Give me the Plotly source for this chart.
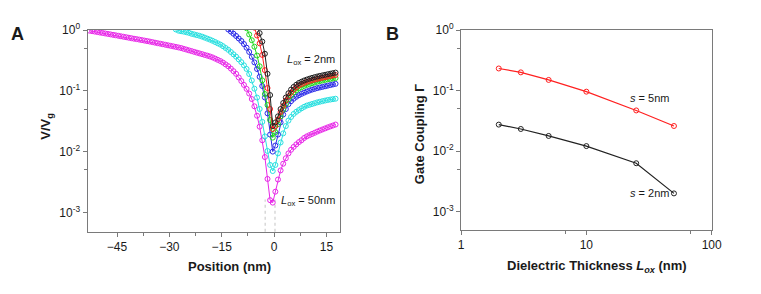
import plotly.graph_objects as go

# ---------------- Panel A data ----------------
position_nm = [
    -52.875, -52.125, -51.375, -50.625, -49.875, -49.125, -48.375, -47.625, -46.875, -46.125,
    -45.375, -44.625, -43.875, -43.125, -42.375, -41.625, -40.875, -40.125, -39.375, -38.625,
    -37.875, -37.125, -36.375, -35.625, -34.875, -34.125, -33.375, -32.625, -31.875, -31.125,
    -30.375, -29.625, -28.875, -28.125, -27.375, -26.625, -25.875, -25.125, -24.375, -23.625,
    -22.875, -22.125, -21.375, -20.625, -19.875, -19.125, -18.375, -17.625, -16.875, -16.125,
    -15.375, -14.625, -13.875, -13.125, -12.375, -11.625, -10.875, -10.125, -9.375, -8.625,
    -7.875, -7.125, -6.375, -5.625, -4.875, -4.125, -3.375, -2.625, -1.875, -1.125,
    -0.375, 0.375, 1.125, 1.875, 2.625, 3.375, 4.125, 4.875, 5.625, 6.375,
    7.125, 7.875, 8.625, 9.375, 10.125, 10.875, 11.625, 12.375, 13.125, 13.875,
    14.625, 15.375, 16.125, 16.875, 17.625,
]

# log10(V/Vg), each series ends at the last position
log10_v_lox50 = [
    -0.010, -0.018, -0.025, -0.033, -0.041, -0.048, -0.056, -0.063, -0.071, -0.079,
    -0.086, -0.094, -0.102, -0.110, -0.118, -0.126, -0.134, -0.142, -0.149, -0.157,
    -0.165, -0.173, -0.181, -0.189, -0.198, -0.207, -0.216, -0.224, -0.233, -0.242,
    -0.251, -0.259, -0.268, -0.277, -0.286, -0.296, -0.309, -0.321, -0.334, -0.346,
    -0.359, -0.371, -0.384, -0.396, -0.409, -0.421, -0.434, -0.450, -0.470, -0.490,
    -0.510, -0.535, -0.565, -0.595, -0.634, -0.676, -0.720, -0.780, -0.840, -0.903,
    -0.968, -1.045, -1.135, -1.255, -1.410, -1.590, -1.814, -2.090, -2.450, -2.800,
    -2.840, -2.660, -2.460, -2.310, -2.200, -2.110, -2.030, -1.970, -1.923, -1.881,
    -1.844, -1.813, -1.776, -1.750, -1.730, -1.710, -1.691, -1.671, -1.653, -1.636,
    -1.619, -1.602, -1.586, -1.571, -1.555,
]
log10_v_lox25 = [
    0.010,
    -0.010, -0.019, -0.026, -0.036, -0.046, -0.061,
    -0.072, -0.083, -0.094, -0.108, -0.124, -0.141, -0.157, -0.176, -0.197, -0.218,
    -0.239, -0.265, -0.295, -0.325, -0.361, -0.399, -0.438, -0.483, -0.528, -0.580,
    -0.640, -0.723, -0.829, -0.965, -1.111, -1.299, -1.511, -1.750, -1.990, -2.220,
    -2.320, -2.220, -2.030, -1.850, -1.700, -1.580, -1.490, -1.430, -1.380, -1.345,
    -1.316, -1.288, -1.263, -1.243, -1.230, -1.217, -1.204, -1.190, -1.180, -1.170,
    -1.160, -1.151, -1.144, -1.137, -1.130,
]
log10_v_lox10 = [
    0.010,
    -0.025, -0.060, -0.097, -0.138, -0.179, -0.230,
    -0.290, -0.360, -0.440, -0.532, -0.641, -0.769, -0.921, -1.110, -1.370, -1.720,
    -2.000, -1.900, -1.720, -1.520, -1.390, -1.300, -1.220, -1.170, -1.130, -1.098,
    -1.072, -1.050, -1.030, -1.012, -0.995, -0.980, -0.968, -0.955, -0.945, -0.935,
    -0.925, -0.915, -0.905, -0.895, -0.885,
]
log10_v_lox5 = [
    0.030,
    -0.072, -0.167, -0.274, -0.419, -0.596, -0.828, -1.053, -1.234, -1.480,
    -1.770, -1.680, -1.550, -1.420, -1.310, -1.220, -1.140, -1.080, -1.025, -0.990,
    -0.960, -0.940, -0.920, -0.903, -0.890, -0.875, -0.863, -0.850, -0.840, -0.830,
    -0.820, -0.811, -0.804, -0.797, -0.790,
]
log10_v_lox3 = [
    0.040,
    -0.090, -0.218, -0.409, -0.660, -0.954, -1.300,
    -1.630, -1.580, -1.470, -1.350, -1.250, -1.160, -1.090, -1.030, -0.980, -0.940,
    -0.910, -0.890, -0.870, -0.853, -0.840, -0.827, -0.815, -0.804, -0.794, -0.784,
    -0.775, -0.766, -0.757, -0.748, -0.740,
]
log10_v_lox2 = [
    0.080,
    -0.050, -0.190, -0.390, -0.720, -1.070,
    -1.580, -1.520, -1.420, -1.300, -1.200, -1.110, -1.040, -0.980, -0.935, -0.900,
    -0.870, -0.850, -0.830, -0.815, -0.800, -0.787, -0.775, -0.764, -0.754, -0.745,
    -0.736, -0.727, -0.718, -0.709, -0.700,
]
series_names_a = ["L_ox = 2nm", "L_ox = 3nm", "L_ox = 5nm", "L_ox = 10nm", "L_ox = 25nm", "L_ox = 50nm"]
gap_edges_nm = [-2.55, 0.27]

x_ticks_a = [-45, -30, -15, 0, 15]
x_minor_a = [-37.5, -22.5, -7.5, 7.5]
y_ticks = [1, 0.1, 0.01, 0.001]
y_ticktext = ["10<sup>0</sup>", "10<sup>-1</sup>", "10<sup>-2</sup>", "10<sup>-3</sup>"]
y_minor = [0.5, 0.05, 0.005]

# ---------------- Panel B data ----------------
lox_nm = [2, 3, 5, 10, 25, 50]
gamma_s5 = [0.232, 0.200, 0.150, 0.096, 0.047, 0.026]
gamma_s2 = [0.0274, 0.0232, 0.0178, 0.0121, 0.0063, 0.0020]
x_ticks_b = [1, 10, 100]
x_minor_b = [6.8, 68]

FONT = "Liberation Sans, Arial, sans-serif"
AX = "#7a7a7a"
TXT = "#1a1a1a"

W, H = 761, 294
# the page shows the figure 10 px lower and about 3.4 % shorter than asked; map screen y to paper
TOP_OFF, VSCALE = 10.0, 0.966


def py(y_screen):
    """paper fraction for a wanted screen y (px from top)."""
    return 1 - ((y_screen - TOP_OFF) / VSCALE) / H


fig = go.Figure()

colors_a = ["#222222", "#ff2020", "#1fd81f", "#2a2ae8", "#28e0e0", "#e826e8"]
series_a = [log10_v_lox2, log10_v_lox3, log10_v_lox5, log10_v_lox10, log10_v_lox25, log10_v_lox50]
for name, col, vals in reversed(list(zip(series_names_a, colors_a, series_a))):
    xs = position_nm[len(position_nm) - len(vals):]
    fig.add_trace(go.Scatter(
        x=xs, y=[10 ** v for v in vals], mode="lines+markers", name=name,
        line=dict(color=col, width=1),
        marker=dict(symbol="circle-open", size=5, color=col, line=dict(width=1, color=col)),
        xaxis="x", yaxis="y", showlegend=False,
    ))

for nm, col, vals in [("s = 5nm", "#ff2020", gamma_s5), ("s = 2nm", "#222222", gamma_s2)]:
    fig.add_trace(go.Scatter(
        x=lox_nm, y=vals, mode="lines+markers", name=nm,
        line=dict(color=col, width=1.2),
        marker=dict(symbol="circle-open", size=5, color=col, line=dict(width=1, color=col)),
        xaxis="x2", yaxis="y2", showlegend=False,
    ))

for g in gap_edges_nm:
    fig.add_shape(type="line", xref="x", yref="y domain", x0=g, x1=g, y0=0, y1=0.16,
                  line=dict(color="#c4c4c4", width=1, dash="dot"), layer="below")

dxa = [86 / W, 343 / W]
dya = [py(232), py(31)]
dxb = [466 / W, 721 / W]
dyb = [py(230), py(31)]

tickfont = dict(family=FONT, size=12, color=TXT)
common = dict(showgrid=False, zeroline=False, linecolor=AX, linewidth=1, tickcolor=AX,
              tickwidth=1, tickfont=tickfont)

xr_a = [-53.45, 18.94]
yr = [-3.32, 0]
yr_b = [-3.3, 0]
xr_b = [0, 2.0]

fig.update_layout(
    width=W, height=H, autosize=False,
    margin=dict(l=0, r=0, t=0, b=0),
    paper_bgcolor="white", plot_bgcolor="white",
    font=dict(family=FONT, color=TXT),
    xaxis=dict(domain=dxa, anchor="y", range=xr_a, tickmode="array", tickvals=x_ticks_a,
               ticks="outside", ticklen=4, showline=True, mirror=True,
               minor=dict(tickmode="array", tickvals=x_minor_a, ticks="outside", ticklen=3, tickcolor=AX),
               **common),
    yaxis=dict(domain=dya, anchor="x", type="log", range=yr, tickmode="array", tickvals=y_ticks,
               ticktext=y_ticktext, ticks="outside", ticklen=4, showline=True, mirror=True,
               minor=dict(tickmode="array", tickvals=y_minor, ticks="outside", ticklen=3, tickcolor=AX),
               **common),
    xaxis3=dict(overlaying="x", anchor="y", side="top", range=xr_a, tickmode="array",
                tickvals=x_ticks_a, ticks="inside", ticklen=4, showticklabels=False, showline=False,
                minor=dict(tickmode="array", tickvals=x_minor_a, ticks="inside", ticklen=3, tickcolor=AX),
                **common),
    yaxis3=dict(overlaying="y", anchor="x", side="right", type="log", range=yr, tickmode="array",
                tickvals=y_ticks, ticks="inside", ticklen=4, showticklabels=False, showline=False,
                minor=dict(tickmode="array", tickvals=y_minor, ticks="inside", ticklen=3, tickcolor=AX),
                **common),
    xaxis2=dict(domain=dxb, anchor="y2", type="log", range=xr_b, tickmode="array", tickvals=x_ticks_b,
                ticktext=["1", "10", "100"], ticks="outside", ticklen=4, showline=True, mirror=True,
                minor=dict(tickmode="array", tickvals=x_minor_b, ticks="outside", ticklen=3, tickcolor=AX),
                **common),
    yaxis2=dict(domain=dyb, anchor="x2", type="log", range=yr_b, tickmode="array", tickvals=y_ticks,
                ticktext=y_ticktext, ticks="outside", ticklen=4, showline=True, mirror=True,
                minor=dict(tickmode="array", tickvals=y_minor, ticks="outside", ticklen=3, tickcolor=AX),
                **common),
    xaxis4=dict(overlaying="x2", anchor="y2", side="top", type="log", range=xr_b, tickmode="array",
                tickvals=x_ticks_b, ticks="inside", ticklen=4, showticklabels=False, showline=False,
                minor=dict(tickmode="array", tickvals=x_minor_b, ticks="inside", ticklen=3, tickcolor=AX),
                **common),
    yaxis4=dict(overlaying="y2", anchor="x2", side="right", type="log", range=yr_b, tickmode="array",
                tickvals=y_ticks, ticks="inside", ticklen=4, showticklabels=False, showline=False,
                minor=dict(tickmode="array", tickvals=y_minor, ticks="inside", ticklen=3, tickcolor=AX),
                **common),
)


def ann(text, x, y, size=12, bold=False, angle=0, xanchor="center"):
    fig.add_annotation(text=f"<b>{text}</b>" if bold else text, xref="paper", yref="paper",
                       x=x / W, y=py(y), showarrow=False, textangle=angle,
                       xanchor=xanchor, yanchor="middle",
                       font=dict(family=FONT, size=size, color=TXT))


ann("A", 15, 35, size=18, bold=True)
ann("B", 396, 35, size=18, bold=True)
ann("Position (nm)", 230, 267, size=13, bold=True)
ann("V/V<sub>g</sub>", 44, 127, size=13, bold=True, angle=-90)
ann("Dielectric Thickness <i>L<sub>ox</sub></i> (nm)", 604, 267, size=13, bold=True)
ann("Gate Coupling Γ", 424, 135, size=13, bold=True, angle=-90)
ann("<i>L</i><sub>ox</sub> = 2nm", 287, 61, size=11, xanchor="left")
ann("<i>L</i><sub>ox</sub> = 50nm", 281, 201, size=11, xanchor="left")
ann("<i>s</i> = 5nm", 636, 99, size=11, xanchor="left")
ann("<i>s</i> = 2nm", 636, 193, size=11, xanchor="left")

fig.write_html("out.html", config={"displayModeBar": False},
               post_script="document.body.style.margin='0';document.body.style.padding='0';")
